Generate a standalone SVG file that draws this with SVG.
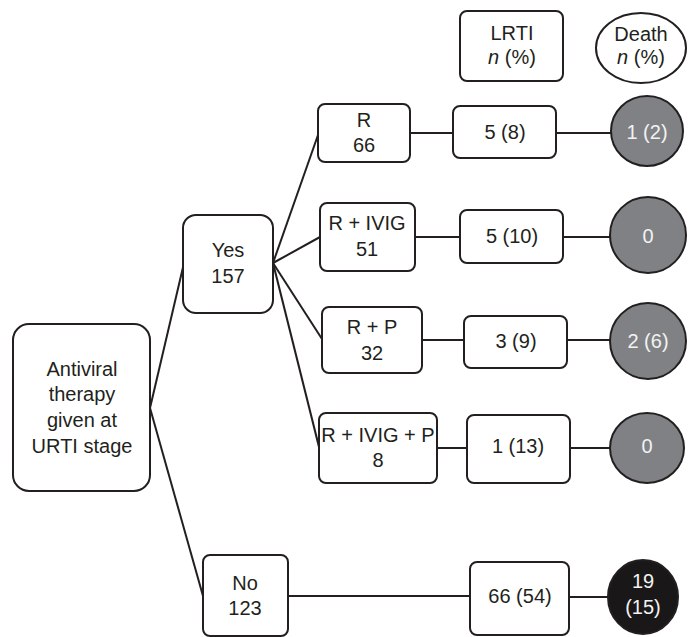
<svg xmlns="http://www.w3.org/2000/svg" width="692" height="637" viewBox="0 0 692 637">
<style>
.box{fill:#fff;stroke:#231f20;stroke-width:2}
.gc{fill:#808184;stroke:#231f20;stroke-width:2}
.bc{fill:#1a1718;stroke:#231f20;stroke-width:2}
.ln{stroke:#231f20;stroke-width:2;fill:none}
text{font-family:"Liberation Sans",Arial,sans-serif;font-size:20px;fill:#231f20;text-anchor:middle}
.wt{fill:#f2f2f2}
.it{font-style:italic}
</style>
<rect width="692" height="637" fill="#fff"/>
<g id="connectors">
<line class="ln" x1="150" y1="408" x2="184" y2="263"/>
<line class="ln" x1="150" y1="408" x2="203" y2="596"/>
<line class="ln" x1="273" y1="263" x2="318" y2="135"/>
<line class="ln" x1="273" y1="263" x2="320" y2="237"/>
<line class="ln" x1="273" y1="263" x2="322" y2="339"/>
<line class="ln" x1="273" y1="263" x2="319" y2="447"/>
<line class="ln" x1="410" y1="133" x2="453" y2="133"/>
<line class="ln" x1="556" y1="133" x2="611" y2="133"/>
<line class="ln" x1="415" y1="237" x2="460" y2="237"/>
<line class="ln" x1="563" y1="237" x2="610" y2="237"/>
<line class="ln" x1="422" y1="340" x2="464" y2="340"/>
<line class="ln" x1="567" y1="340" x2="610" y2="340"/>
<line class="ln" x1="437" y1="448" x2="467" y2="448"/>
<line class="ln" x1="570" y1="448" x2="610" y2="448"/>
<line class="ln" x1="288" y1="596" x2="470" y2="596"/>
<line class="ln" x1="569" y1="597" x2="608" y2="597"/>
</g>
<g id="hdr-lrti">
<rect class="box" x="460" y="11" width="103" height="70" rx="7"/>
<text x="512" y="40">LRTI</text>
<text x="512" y="64"><tspan class="it">n</tspan> (%)</text>
</g>
<g id="hdr-death">
<ellipse class="box" cx="641" cy="48" rx="45" ry="35"/>
<text x="641" y="41">Death</text>
<text x="641" y="64"><tspan class="it">n</tspan> (%)</text>
</g>
<g id="root">
<rect class="box" x="13" y="324" width="137" height="167" rx="16"/>
<text x="82" y="376">Antiviral</text>
<text x="82" y="401">therapy</text>
<text x="82" y="427">given at</text>
<text x="82" y="453">URTI stage</text>
</g>
<g id="yes">
<rect class="box" x="183" y="215" width="90" height="98" rx="13"/>
<text x="228" y="257">Yes</text>
<text x="228" y="283">157</text>
</g>
<g id="no">
<rect class="box" x="203" y="555" width="85" height="81" rx="7"/>
<text x="245" y="590">No</text>
<text x="245" y="615">123</text>
</g>
<g id="r">
<rect class="box" x="318" y="104" width="92" height="58" rx="7"/>
<text x="364" y="127">R</text>
<text x="364" y="152">66</text>
</g>
<g id="r-ivig">
<rect class="box" x="320" y="203" width="95" height="68" rx="7"/>
<text x="367" y="230">R + IVIG</text>
<text x="367" y="256">51</text>
</g>
<g id="r-p">
<rect class="box" x="322" y="307" width="100" height="66" rx="7"/>
<text x="372" y="334">R + P</text>
<text x="372" y="360">32</text>
</g>
<g id="r-ivig-p">
<rect class="box" x="319" y="413" width="118" height="70" rx="7"/>
<text x="378" y="442">R + IVIG + P</text>
<text x="378" y="467">8</text>
</g>
<g id="lrti-1">
<rect class="box" x="453" y="106" width="103" height="52" rx="7"/>
<text x="505" y="139">5 (8)</text>
</g>
<g id="lrti-2">
<rect class="box" x="460" y="210" width="103" height="53" rx="7"/>
<text x="512" y="243">5 (10)</text>
</g>
<g id="lrti-3">
<rect class="box" x="464" y="316" width="103" height="52" rx="7"/>
<text x="516" y="348">3 (9)</text>
</g>
<g id="lrti-4">
<rect class="box" x="467" y="415" width="103" height="68" rx="7"/>
<text x="518" y="453">1 (13)</text>
</g>
<g id="lrti-5">
<rect class="box" x="470" y="562" width="99" height="73" rx="7"/>
<text x="520" y="603">66 (54)</text>
</g>
<g id="death-1">
<ellipse class="gc" cx="647" cy="131" rx="36" ry="35"/>
<text class="wt" x="647" y="139">1 (2)</text>
</g>
<g id="death-2">
<ellipse class="gc" cx="648" cy="235" rx="38" ry="38"/>
<text class="wt" x="648" y="243">0</text>
</g>
<g id="death-3">
<ellipse class="gc" cx="648" cy="341" rx="38" ry="38"/>
<text class="wt" x="648" y="348">2 (6)</text>
</g>
<g id="death-4">
<ellipse class="gc" cx="647" cy="448" rx="37" ry="35"/>
<text class="wt" x="647" y="453">0</text>
</g>
<g id="death-5">
<ellipse class="bc" cx="643" cy="597" rx="35" ry="37"/>
<text class="wt" x="643" y="588">19</text>
<text class="wt" x="643" y="614">(15)</text>
</g>
</svg>
